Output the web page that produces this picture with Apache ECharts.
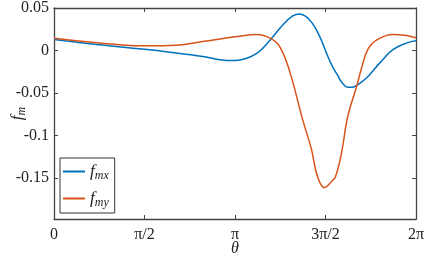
<!DOCTYPE html>
<html>
<head>
<meta charset="utf-8">
<script src="https://cdn.jsdelivr.net/npm/echarts@6/dist/echarts.min.js"></script>
<style>
  html, body { margin: 0; padding: 0; background: #fff; }
  #chart { width: 429px; height: 262px; }
</style>
</head>
<body>
<div id="chart"></div>
<script>
// theta in degrees (axis labelled in multiples of pi)
var thetaMx = [0, 45, 95, 115, 148, 175, 185, 202, 215, 227.5, 237.4, 244, 250, 254, 257, 262, 267, 272, 277, 282, 286, 292, 297, 301, 311, 324, 337, 351, 360];
var fmx = [0.013, 0.0067, 0.0008, -0.002, -0.007, -0.0117, -0.011, -0.003, 0.0125, 0.030, 0.0406, 0.043, 0.0405, 0.036, 0.032, 0.022, 0.009, -0.006, -0.019, -0.029, -0.037, -0.043, -0.043, -0.041, -0.032, -0.0145, 0.001, 0.009, 0.0114];

var thetaMy = [0, 45, 85, 115, 148, 182, 202, 215, 224.4, 234, 247, 256, 262, 269, 276, 280, 286, 292, 301, 306, 312, 321, 337, 349, 360];
var fmy = [0.0145, 0.009, 0.0055, 0.0059, 0.0105, 0.0164, 0.019, 0.0145, 0.0047, -0.023, -0.08, -0.116, -0.148, -0.161, -0.154, -0.148, -0.12, -0.078, -0.042, -0.02, 0.001, 0.0125, 0.019, 0.018, 0.015];

var xTickLabels = {0: '0', 90: 'π/2', 180: 'π', 270: '3π/2', 360: '2π'};
var yTicks = [0.05, 0, -0.05, -0.1, -0.15];

function pairs(xs, ys) {
    return xs.map(function (x, i) { return [x, ys[i]]; });
}

var chart = echarts.init(document.getElementById('chart'));
var font = 'Liberation Serif';
var axisCol = '#444';
var subRich = {
    f: { fontFamily: font, fontStyle: 'italic', fontSize: 17, color: '#222' },
    s: { fontFamily: font, fontStyle: 'italic', fontSize: 12, color: '#222', padding: [9, 0, 0, 0] }
};

chart.setOption({
    animation: false,
    grid: { left: 54, right: 13, top: 8, bottom: 43, outerBoundsMode: 'none' },
    legend: {
        left: 60, top: 158, orient: 'vertical',
        padding: [5, 6, 4, 3],
        itemGap: 8,
        icon: 'rect',
        itemWidth: 22, itemHeight: 2,
        borderColor: '#333', borderWidth: 1,
        backgroundColor: '#fff',
        formatter: function (name) {
            return '{f|f}{s|' + name.slice(1) + '}';
        },
        textStyle: { rich: subRich },
        data: ['fmx', 'fmy']
    },
    xAxis: [{
        type: 'value', min: 0, max: 360, interval: 90,
        name: 'θ', nameLocation: 'middle', nameGap: 22, nameMoveOverlap: false,
        nameTextStyle: { fontFamily: font, fontStyle: 'italic', fontSize: 16, color: '#222' },
        axisLine: { onZero: false, lineStyle: { color: axisCol, width: 1.3 } },
        axisTick: { inside: true, length: 4, lineStyle: { color: axisCol } },
        axisLabel: {
            fontFamily: font, fontSize: 16, color: '#222', margin: 8,
            formatter: function (v) { return xTickLabels[v]; }
        },
        splitLine: { show: false }
    }, {
        type: 'value', min: 0, max: 360, interval: 90, position: 'top',
        axisLine: { show: true, onZero: false, lineStyle: { color: axisCol, width: 1.3 } },
        axisTick: { inside: true, length: 4, lineStyle: { color: axisCol } },
        axisLabel: { show: false },
        splitLine: { show: false }
    }],
    yAxis: [{
        type: 'value', min: -0.198, max: 0.05,
        name: '{f|f}{s|m}', nameLocation: 'middle', nameGap: 26, nameRotate: 90,
        nameMoveOverlap: false,
        nameTextStyle: { rich: subRich },
        axisLine: { show: true, onZero: false, lineStyle: { color: axisCol, width: 1.3 } },
        axisTick: { inside: true, length: 4, customValues: yTicks, lineStyle: { color: axisCol } },
        axisLabel: {
            fontFamily: font, fontSize: 16, color: '#222', margin: 5,
            customValues: yTicks,
            formatter: function (v) { return String(Math.round(v * 100) / 100); }
        },
        splitLine: { show: false }
    }, {
        type: 'value', min: -0.198, max: 0.05, position: 'right',
        axisLine: { show: true, onZero: false, lineStyle: { color: axisCol, width: 1.3 } },
        axisTick: { inside: true, length: 4, customValues: yTicks, lineStyle: { color: axisCol } },
        axisLabel: { show: false },
        splitLine: { show: false }
    }],
    series: [{
        name: 'fmx', type: 'line', symbol: 'none', smooth: 0.4,
        lineStyle: { color: '#0072BD', width: 1.5 },
        itemStyle: { color: '#0072BD' },
        data: pairs(thetaMx, fmx)
    }, {
        name: 'fmy', type: 'line', symbol: 'none', smooth: 0.4,
        lineStyle: { color: '#D95319', width: 1.5 },
        itemStyle: { color: '#D95319' },
        data: pairs(thetaMy, fmy)
    }]
});
</script>
</body>
</html>
